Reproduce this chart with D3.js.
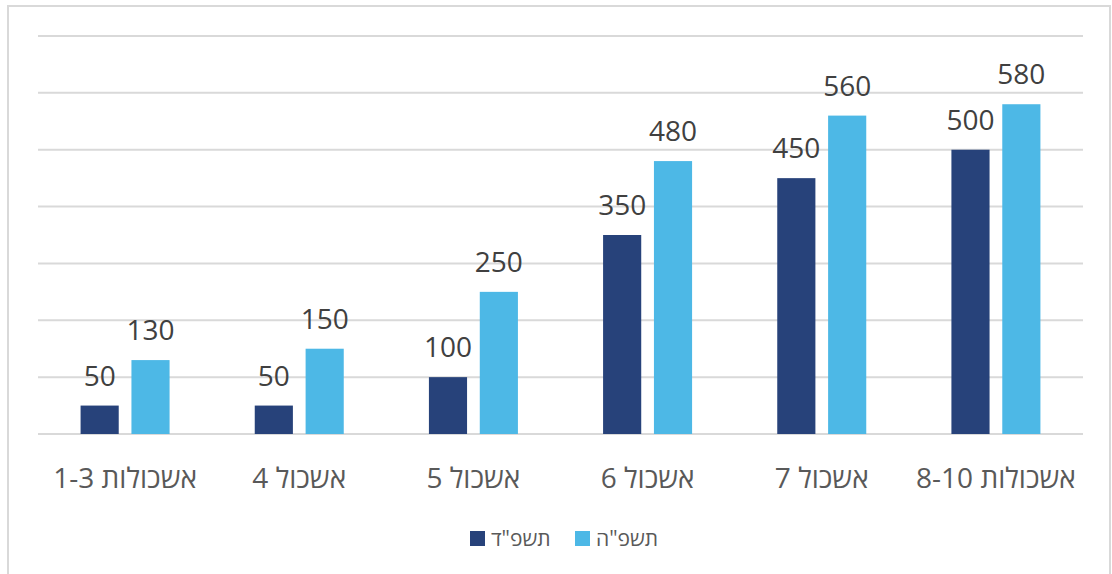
<!doctype html>
<html lang="he">
<head>
  <meta charset="UTF-8">
  <title>אשכולות</title>
  <script src="https://cdn.jsdelivr.net/npm/d3@7"></script>
  <style>
    body { margin: 0; background: #fff; }
    text { font-family: "Open Sans", "Noto Sans", "DejaVu Sans", sans-serif; fill: #595959; }
  </style>
</head>
<body>
<div id="container"></div>
<script type="text/javascript">
var categories = ['אשכולות 1-3', 'אשכול 4', 'אשכול 5', 'אשכול 6', 'אשכול 7', 'אשכולות 8-10'];
var seriesNames = ['תשפ"ד', 'תשפ"ה'];
var valuesD = [50, 50, 100, 350, 450, 500];
var valuesH = [130, 150, 250, 480, 560, 580];
var gridTicks = [0, 100, 200, 300, 400, 500, 600, 700];
var colors = ['#27427A', '#4DB8E6'];

var width = 1112, height = 574;
var plotLeft = 38, plotRight = 1083, plotTop = 36, plotBottom = 434;

var svg = d3.select('#container').append('svg')
  .attr('width', width)
  .attr('height', height);

// frame
svg.append('rect')
  .attr('x', 8).attr('y', 6)
  .attr('width', 1102).attr('height', 580)
  .attr('fill', 'none')
  .attr('stroke', '#d9d9d9')
  .attr('stroke-width', 2);

var x = d3.scaleBand().domain(categories).range([plotLeft, plotRight]);
var xs = d3.scaleBand().domain(seriesNames).range([0, 89]).paddingInner(0.25);
var y = d3.scaleLinear().domain([0, 700]).range([plotBottom, plotTop]);

svg.selectAll('.grid').data(gridTicks).enter()
  .append('line')
  .attr('class', 'grid')
  .attr('x1', plotLeft).attr('x2', plotRight)
  .attr('y1', function(d) { return y(d); })
  .attr('y2', function(d) { return y(d); })
  .attr('stroke', '#d9d9d9')
  .attr('stroke-width', 2);

var rows = categories.map(function(c, i) {
  return { cat: c, vals: [valuesD[i], valuesH[i]] };
});

var groups = svg.selectAll('.group').data(rows).enter()
  .append('g')
  .attr('class', 'group')
  .attr('transform', function(d) { return 'translate(' + (x(d.cat) + x.bandwidth() / 2 - 44.5) + ',0)'; });

groups.selectAll('rect').data(function(d) {
  return d.vals.map(function(v, j) { return { s: seriesNames[j], v: v, j: j }; });
}).enter()
  .append('rect')
  .attr('x', function(d) { return xs(d.s); })
  .attr('y', function(d) { return y(d.v); })
  .attr('width', xs.bandwidth())
  .attr('height', function(d) { return y(0) - y(d.v); })
  .attr('fill', function(d) { return colors[d.j]; });

groups.selectAll('.val').data(function(d) {
  return d.vals.map(function(v, j) { return { s: seriesNames[j], v: v }; });
}).enter()
  .append('text')
  .attr('class', 'val')
  .attr('x', function(d) { return xs(d.s) + xs.bandwidth() / 2; })
  .attr('y', function(d) { return y(d.v) - 20; })
  .attr('text-anchor', 'middle')
  .style('font-size', '28px')
  .style('fill', '#404040')
  .text(function(d) { return d.v; });

svg.selectAll('.cat').data(categories).enter()
  .append('text')
  .attr('class', 'cat')
  .attr('x', function(d) { return x(d) + x.bandwidth() / 2; })
  .attr('y', 488)
  .attr('text-anchor', 'middle')
  .attr('direction', 'rtl')
  .style('font-size', '28px')
  .text(function(d) { return d; });

// legend
var legend = svg.append('g');
var legX = [470, 575];
seriesNames.forEach(function(name, i) {
  legend.append('rect')
    .attr('x', legX[i]).attr('y', 531)
    .attr('width', 15).attr('height', 15)
    .attr('fill', colors[i]);
  legend.append('text')
    .attr('x', legX[i] + 21).attr('y', 546)
    .attr('text-anchor', 'start')
    .style('font-size', '21px')
    .text(name);
});
</script>
</body>
</html>
